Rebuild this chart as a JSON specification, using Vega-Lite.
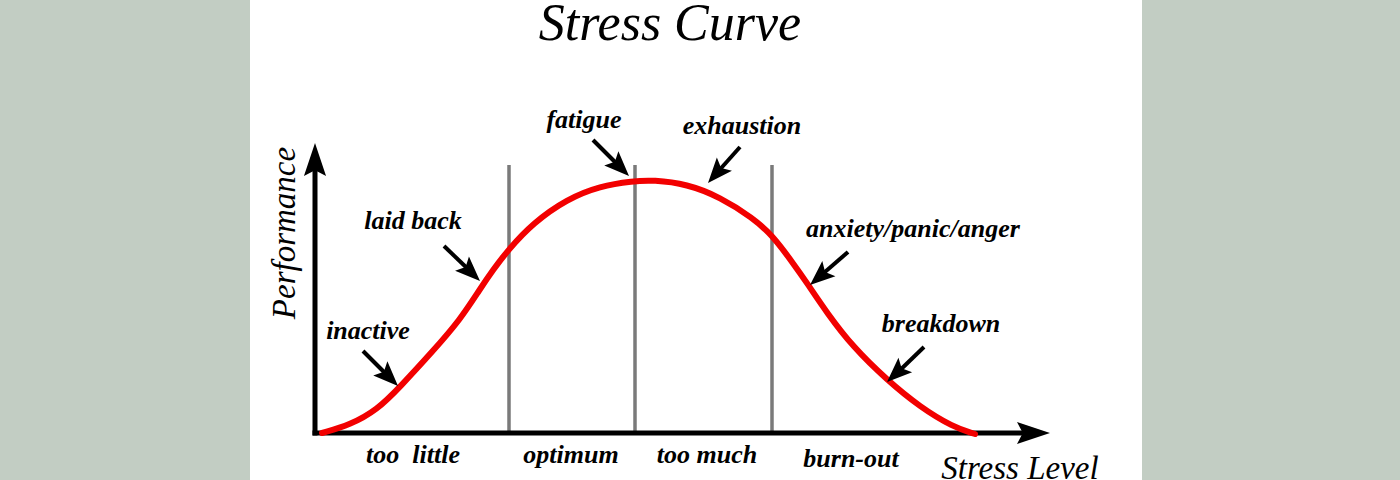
{
  "$schema": "https://vega.github.io/schema/vega-lite/v6.json",
  "autosize": {"type": "none"},
  "padding": {"left": 250, "right": 258, "top": 0, "bottom": 0},
  "width": 892,
  "height": 480,
  "background": "#c2cdc3",
  "config": {"view": {"fill": "white", "stroke": null}},
  "data": {"values": [
    {"kind": "grid", "x": 19.4, "y": 0, "y2": 26.8},
    {"kind": "grid", "x": 32.0, "y": 0, "y2": 26.8},
    {"kind": "grid", "x": 45.7, "y": 0, "y2": 26.8},
    {"kind": "axis", "x": 0, "y": 0, "x2": 0, "y2": 27.0},
    {"kind": "axis", "x": 0, "y": 0, "x2": 71.5, "y2": 0},
    {"kind": "bighead", "x": 0, "y": 29.0, "a": 270},
    {"kind": "bighead", "x": 73.5, "y": 0, "a": 0},
    {"kind": "curve", "x": 0.7, "y": 0},
    {"kind": "curve", "x": 3.5, "y": 0.8},
    {"kind": "curve", "x": 6.2, "y": 2.3},
    {"kind": "curve", "x": 8.5, "y": 4.6},
    {"kind": "curve", "x": 11.8, "y": 8.2},
    {"kind": "curve", "x": 14.5, "y": 11.3},
    {"kind": "curve", "x": 16.5, "y": 14.4},
    {"kind": "curve", "x": 17.8, "y": 16.3},
    {"kind": "curve", "x": 19.3, "y": 18.3},
    {"kind": "curve", "x": 21.8, "y": 21.0},
    {"kind": "curve", "x": 25.2, "y": 23.4},
    {"kind": "curve", "x": 28.5, "y": 24.7},
    {"kind": "curve", "x": 31.8, "y": 25.2},
    {"kind": "curve", "x": 33.8, "y": 25.3},
    {"kind": "curve", "x": 37.2, "y": 24.9},
    {"kind": "curve", "x": 40.5, "y": 23.6},
    {"kind": "curve", "x": 43.8, "y": 21.5},
    {"kind": "curve", "x": 45.7, "y": 19.8},
    {"kind": "curve", "x": 47.8, "y": 17.0},
    {"kind": "curve", "x": 49.2, "y": 15.0},
    {"kind": "curve", "x": 51.2, "y": 12.0},
    {"kind": "curve", "x": 53.8, "y": 8.6},
    {"kind": "curve", "x": 57.2, "y": 5.3},
    {"kind": "curve", "x": 60.5, "y": 2.6},
    {"kind": "curve", "x": 63.8, "y": 0.6},
    {"kind": "curve", "x": 66.0, "y": -0.1},
    {"kind": "arrow", "x": 4.8, "y": 8.2, "x2": 7.2, "y2": 5.8},
    {"kind": "arrow", "x": 12.9, "y": 18.7, "x2": 15.4, "y2": 16.3},
    {"kind": "arrow", "x": 27.8, "y": 29.3, "x2": 30.3, "y2": 26.8},
    {"kind": "arrow", "x": 42.5, "y": 28.6, "x2": 40.0, "y2": 25.8},
    {"kind": "arrow", "x": 53.3, "y": 18.1, "x2": 50.3, "y2": 15.5},
    {"kind": "arrow", "x": 60.9, "y": 8.6, "x2": 58.0, "y2": 5.8},
    {"kind": "head", "x": 8.3, "y": 4.7, "a": 45},
    {"kind": "head", "x": 16.5, "y": 15.2, "a": 44},
    {"kind": "head", "x": 31.4, "y": 25.7, "a": 45},
    {"kind": "head", "x": 39.3, "y": 25.0, "a": 131},
    {"kind": "head", "x": 49.5, "y": 14.8, "a": 139},
    {"kind": "head", "x": 57.2, "y": 5.1, "a": 137},
    {"kind": "label", "x": 9.8, "y": 20.4, "text": "laid back"},
    {"kind": "label", "x": 5.3, "y": 9.4, "text": "inactive"},
    {"kind": "label", "x": 26.9, "y": 30.5, "text": "fatigue"},
    {"kind": "label", "x": 42.7, "y": 29.9, "text": "exhaustion"},
    {"kind": "label", "x": 59.8, "y": 19.6, "text": "anxiety/panic/anger"},
    {"kind": "label", "x": 62.6, "y": 10.1, "text": "breakdown"},
    {"kind": "label", "x": 9.8, "y": -3.0, "text": "too\u00a0 little"},
    {"kind": "label", "x": 25.6, "y": -3.0, "text": "optimum"},
    {"kind": "label", "x": 39.2, "y": -3.0, "text": "too much"},
    {"kind": "label", "x": 53.6, "y": -3.4, "text": "burn-out"},
    {"kind": "title", "x": 35.5, "y": 39.3, "text": "Stress Curve"},
    {"kind": "axistitle", "x": -2.0, "y": 20.0, "a": 270, "text": "Performance"},
    {"kind": "axistitle", "x": 70.5, "y": -4.6, "a": 0, "text": "Stress Level"}
  ]},
  "encoding": {
    "x": {"field": "x", "type": "quantitative", "axis": null, "scale": {"domain": [-6.5, 82.7], "nice": false, "zero": false}},
    "y": {"field": "y", "type": "quantitative", "axis": null, "scale": {"domain": [-4.7, 43.3], "nice": false, "zero": false}}
  },
  "layer": [
    {
      "transform": [{"filter": "datum.kind === 'grid'"}],
      "mark": {"type": "rule", "color": "#7a7a7a", "strokeWidth": 3.5},
      "encoding": {"y2": {"field": "y2"}}
    },
    {
      "transform": [{"filter": "datum.kind === 'axis'"}],
      "mark": {"type": "rule", "color": "black", "strokeWidth": 5, "strokeCap": "square"},
      "encoding": {"x2": {"field": "x2"}, "y2": {"field": "y2"}}
    },
    {
      "transform": [{"filter": "datum.kind === 'bighead'"}],
      "mark": {"type": "point", "shape": "M0,0 L-2,-0.67 L-1.65,0 L-2,0.67 Z", "size": 1089, "filled": true, "color": "black", "opacity": 1, "strokeWidth": 0},
      "encoding": {"angle": {"field": "a", "type": "quantitative", "scale": null}}
    },
    {
      "transform": [{"filter": "datum.kind === 'curve'"}],
      "mark": {"type": "line", "color": "#f20000", "strokeWidth": 6, "interpolate": "basis", "strokeCap": "round"}
    },
    {
      "transform": [{"filter": "datum.kind === 'arrow'"}],
      "mark": {"type": "rule", "color": "black", "strokeWidth": 4},
      "encoding": {"x2": {"field": "x2"}, "y2": {"field": "y2"}}
    },
    {
      "transform": [{"filter": "datum.kind === 'head'"}],
      "mark": {"type": "point", "shape": "M0,0 L-2,-0.8 L-1.6,0 L-2,0.8 Z", "size": 625, "filled": true, "color": "black", "opacity": 1, "strokeWidth": 0},
      "encoding": {"angle": {"field": "a", "type": "quantitative", "scale": null}}
    },
    {
      "transform": [{"filter": "datum.kind === 'label'"}],
      "mark": {"type": "text", "font": "Liberation Serif", "fontStyle": "italic", "fontWeight": "bold", "fontSize": 26, "color": "black", "align": "center", "baseline": "alphabetic"},
      "encoding": {"text": {"field": "text"}}
    },
    {
      "transform": [{"filter": "datum.kind === 'title'"}],
      "mark": {"type": "text", "font": "Liberation Serif", "fontStyle": "italic", "fontSize": 52, "color": "black", "align": "center", "baseline": "alphabetic"},
      "encoding": {"text": {"field": "text"}}
    },
    {
      "transform": [{"filter": "datum.kind === 'axistitle'"}],
      "mark": {"type": "text", "font": "Liberation Serif", "fontStyle": "italic", "fontSize": 33, "color": "black", "align": "center", "baseline": "alphabetic"},
      "encoding": {"text": {"field": "text"}, "angle": {"field": "a", "type": "quantitative", "scale": null}}
    }
  ]
}
